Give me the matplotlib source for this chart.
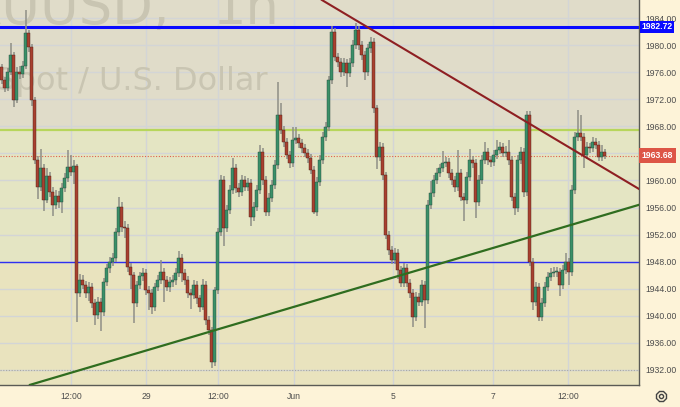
import matplotlib
matplotlib.use('Agg')
import matplotlib.pyplot as plt
import matplotlib.transforms as mtransforms
from matplotlib.lines import Line2D

# ---------------- data ----------------
first_open = 1976.8
closes = [1974.8, 1973.7, 1976.0, 1978.5, 1971.9, 1976.0, 1975.7, 1976.9, 1981.8, 1979.7,
          1971.9, 1963.0, 1959.0, 1961.8, 1957.1, 1960.7, 1958.3, 1956.4, 1957.7, 1956.8,
          1958.9, 1960.4, 1962.0, 1961.3, 1962.1, 1943.4, 1945.3, 1944.6, 1943.4, 1944.3,
          1941.9, 1940.1, 1942.1, 1940.6, 1945.0, 1947.1, 1948.0, 1948.6, 1952.4, 1956.1,
          1953.1, 1953.0, 1947.2, 1946.0, 1941.9, 1944.6, 1945.9, 1946.3, 1943.8, 1943.4,
          1941.3, 1944.3, 1945.3, 1946.5, 1945.3, 1944.3, 1945.0, 1945.3, 1946.3, 1948.6,
          1946.3, 1945.3, 1943.4, 1943.1, 1944.6, 1942.6, 1941.3, 1944.6, 1939.4, 1937.9,
          1933.2, 1943.8, 1952.4, 1960.1, 1953.0, 1955.6, 1958.6, 1961.8, 1958.9, 1958.3,
          1960.1, 1959.0, 1959.6, 1954.6, 1956.1, 1958.6, 1964.2, 1960.1, 1955.4, 1957.4,
          1959.3, 1962.3, 1969.7, 1967.5, 1965.7, 1963.8, 1962.6, 1966.0, 1966.3, 1965.5,
          1964.8, 1964.1, 1963.3, 1961.6, 1955.4, 1959.8, 1963.0, 1966.4, 1967.9, 1974.8,
          1981.9, 1978.2, 1977.5, 1976.0, 1977.4, 1975.9, 1977.4, 1980.0, 1982.2, 1980.0,
          1978.5, 1976.0, 1979.5, 1980.5, 1970.7, 1963.5, 1965.0, 1960.8, 1952.0, 1949.7,
          1948.3, 1949.3, 1946.8, 1944.9, 1947.1, 1944.9, 1943.4, 1939.8, 1942.8, 1942.1,
          1944.6, 1942.3, 1956.4, 1958.2, 1960.1, 1961.1, 1961.8, 1962.6, 1962.7, 1961.1,
          1960.1, 1959.0, 1961.1, 1957.6, 1957.1, 1960.5, 1963.0, 1962.6, 1956.8, 1960.1,
          1963.0, 1964.2, 1963.0, 1962.7, 1963.8, 1964.5, 1965.0, 1964.1, 1964.2, 1963.0,
          1957.6, 1955.9, 1963.0, 1964.2, 1958.3, 1969.7, 1948.0, 1942.1, 1944.3, 1939.8,
          1941.9, 1944.3, 1945.8, 1946.3, 1946.5, 1946.5, 1944.6, 1946.8, 1948.0, 1946.5,
          1958.6, 1966.4, 1967.0, 1966.4, 1963.8, 1965.0, 1964.8, 1965.7, 1965.3, 1963.5,
          1964.2, 1963.68]
highs = [1977.2, 1975.3, 1976.6, 1980.3, 1979.0, 1976.8, 1976.9, 1977.6, 1985.2, 1982.3,
         1980.2, 1972.4, 1963.6, 1964.6, 1962.4, 1961.9, 1961.2, 1959.0, 1958.6, 1958.4,
         1959.6, 1961.1, 1964.5, 1963.8, 1963.0, 1962.5, 1946.2, 1946.0, 1945.2, 1945.0,
         1944.8, 1942.5, 1942.8, 1942.6, 1945.6, 1947.7, 1948.7, 1949.3, 1953.0, 1957.6,
         1956.8, 1954.0, 1953.5, 1947.8, 1946.5, 1945.2, 1946.5, 1947.0, 1946.9, 1944.4,
         1944.0, 1944.9, 1946.0, 1948.3, 1947.1, 1945.9, 1945.7, 1946.0, 1947.1, 1949.6,
         1949.2, 1946.9, 1945.9, 1944.0, 1945.3, 1945.2, 1943.1, 1945.5, 1945.1, 1940.0,
         1938.4, 1944.3, 1953.0, 1960.8, 1960.6, 1956.3, 1959.3, 1963.3, 1962.4, 1959.6,
         1960.8, 1960.7, 1960.3, 1960.2, 1956.8, 1959.3, 1965.2, 1964.8, 1960.7, 1958.1,
         1960.0, 1963.0, 1974.6, 1971.5, 1968.1, 1966.3, 1964.4, 1967.9, 1967.9, 1966.9,
         1966.1, 1965.4, 1964.7, 1963.9, 1962.2, 1960.5, 1963.7, 1967.1, 1968.6, 1975.5,
         1982.8, 1982.5, 1978.9, 1978.1, 1978.1, 1978.0, 1978.1, 1980.7, 1983.3, 1982.8,
         1980.6, 1979.1, 1980.2, 1981.2, 1981.0, 1971.2, 1965.7, 1965.6, 1961.3, 1952.6,
         1950.3, 1950.0, 1949.9, 1947.4, 1947.8, 1947.7, 1945.5, 1944.0, 1943.5, 1943.4,
         1945.3, 1945.2, 1957.1, 1959.9, 1960.8, 1961.8, 1962.5, 1964.4, 1963.4, 1963.3,
         1961.7, 1960.7, 1964.5, 1961.7, 1958.2, 1961.2, 1964.6, 1963.6, 1963.2, 1960.8,
         1963.7, 1965.7, 1964.8, 1963.6, 1964.5, 1966.0, 1965.7, 1965.6, 1965.1, 1966.0,
         1963.6, 1958.2, 1963.7, 1965.0, 1964.8, 1970.2, 1970.2, 1948.6, 1945.0, 1944.9,
         1942.6, 1945.0, 1946.5, 1947.0, 1947.2, 1947.2, 1947.1, 1947.5, 1949.3, 1948.6,
         1959.3, 1967.1, 1970.4, 1969.6, 1967.0, 1965.7, 1965.5, 1966.4, 1966.3, 1965.9,
         1965.2, 1964.6]
lows = [1974.3, 1973.0, 1973.2, 1975.6, 1970.9, 1971.4, 1975.0, 1975.2, 1976.4, 1979.0,
        1971.0, 1962.4, 1957.3, 1958.4, 1955.5, 1956.6, 1957.5, 1954.8, 1955.8, 1956.0,
        1955.2, 1958.3, 1959.8, 1960.7, 1959.5, 1939.1, 1942.8, 1943.9, 1942.6, 1942.2,
        1941.2, 1938.6, 1939.6, 1937.7, 1940.0, 1944.4, 1946.3, 1947.4, 1948.0, 1951.8,
        1952.4, 1951.5, 1946.5, 1944.0, 1939.0, 1941.3, 1944.0, 1945.2, 1943.1, 1940.9,
        1940.2, 1940.7, 1943.6, 1944.7, 1942.0, 1943.7, 1943.5, 1944.3, 1944.6, 1945.7,
        1945.0, 1944.6, 1942.7, 1941.0, 1942.5, 1941.8, 1940.6, 1940.8, 1938.7, 1937.2,
        1932.3, 1932.6, 1943.2, 1951.8, 1950.3, 1952.4, 1955.0, 1958.0, 1958.2, 1957.6,
        1957.7, 1958.4, 1958.4, 1953.3, 1954.0, 1955.5, 1958.0, 1959.4, 1954.8, 1954.8,
        1956.8, 1958.7, 1961.7, 1966.9, 1965.0, 1963.1, 1961.9, 1962.0, 1965.4, 1964.8,
        1964.1, 1963.4, 1962.6, 1960.9, 1955.0, 1954.8, 1959.2, 1962.4, 1965.8, 1967.3,
        1974.2, 1977.6, 1976.8, 1975.3, 1975.4, 1973.8, 1975.3, 1976.8, 1979.4, 1979.3,
        1977.8, 1974.8, 1975.4, 1978.9, 1970.0, 1961.7, 1962.9, 1960.1, 1951.3, 1949.0,
        1947.6, 1947.7, 1945.4, 1944.2, 1944.3, 1944.2, 1942.7, 1938.4, 1939.2, 1941.4,
        1941.5, 1938.2, 1941.7, 1955.8, 1957.6, 1959.5, 1960.5, 1961.2, 1962.0, 1960.4,
        1959.4, 1958.3, 1958.4, 1956.9, 1954.0, 1956.5, 1959.9, 1961.9, 1954.4, 1956.2,
        1959.5, 1962.4, 1962.3, 1962.0, 1962.1, 1963.2, 1963.9, 1963.4, 1963.5, 1962.3,
        1956.9, 1954.9, 1955.3, 1962.4, 1957.6, 1957.7, 1947.4, 1940.8, 1941.5, 1939.3,
        1939.2, 1941.3, 1943.7, 1945.2, 1945.7, 1945.8, 1943.0, 1944.0, 1946.2, 1944.5,
        1945.9, 1958.0, 1965.8, 1965.8, 1961.9, 1963.2, 1964.1, 1964.2, 1964.6, 1962.9,
        1962.9, 1963.2]

time_tick_pos = [23.17, 48.17, 72.17, 97.5, 130.5, 163.83, 188.83]
time_tick_labels = ['12:00', '29', '12:00', 'Jun', '5', '7', '12:00']
price_ticks = [1932, 1936, 1940, 1944, 1948, 1952, 1956, 1960, 1964, 1968, 1972, 1976, 1980, 1984]
hidden_price_labels = [1964]

resistance_level = 1982.72
support_level = 1948.0
zone_level = 1967.45
last_price = 1963.68
low_level = 1932.0
down_trend_x = [106.8, 212.5]
down_trend_y = [1986.66, 1958.74]
up_trend_x = [9.5, 212.5]
up_trend_y = [1929.8, 1956.4]

x_range = (-0.5, 212.5)
y_range = (1929.78, 1986.66)

# ---------------- figure ----------------
W, H = 680, 407
fig = plt.figure(figsize=(W / 100, H / 100), dpi=100)
fig.patch.set_facecolor('#fdf3d8')
ax = fig.add_axes([0, 22 / H, 639 / W, 385 / H])
ax.set_xlim(*x_range)
ax.set_ylim(*y_range)
ax.set_facecolor('#e6e5c3')

# background zones
ax.axhspan(zone_level, y_range[1], color='#e0dcc9', zorder=0, lw=0)
ax.axhspan(support_level, zone_level, color='#e4e5c3', zorder=0, lw=0)
ax.axhspan(y_range[0], support_level, color='#e9e3be', zorder=0, lw=0)

# grid
for p in price_ticks:
    ax.axhline(p, color='#d3d5d6', lw=1.0, zorder=0.5)
for t in time_tick_pos:
    ax.axvline(t, color='#d3d5d6', lw=1.0, zorder=0.5)

# watermark (partly outside the visible pane, as in the reference)
ax.text(170 / 639, 1 - 24 / 385, 'XAUUSD,', transform=ax.transAxes, ha='right',
        va='baseline', fontsize=38, color='#c9c5b2', clip_on=True, zorder=0.6,
        family='DejaVu Sans')
ax.text(212 / 639, 1 - 24 / 385, '1h', transform=ax.transAxes, ha='left',
        va='baseline', fontsize=38, color='#c9c5b2', clip_on=True, zorder=0.6,
        family='DejaVu Sans')
ax.text(268 / 639, 1 - 90 / 385, 'Gold Spot / U.S. Dollar', transform=ax.transAxes,
        ha='right', va='baseline', fontsize=23, color='#c9c5b2', clip_on=True,
        zorder=0.6, family='DejaVu Sans')

# horizontal levels
ax.axhline(resistance_level, color='#0a0aff', lw=2.2, zorder=2)
ax.axhline(support_level, color='#3030f0', lw=1.0, zorder=2)
ax.axhline(zone_level, color='#b7d65c', lw=1.6, zorder=2)
ax.axhline(last_price, color='#e0604a', lw=0.8, ls=(0, (1, 1.5)), zorder=2)
ax.axhline(low_level, color='#a8a8a0', lw=0.8, ls=(0, (1, 1.5)), zorder=2)

# candles
opens = [first_open] + closes[:-1]
idx = list(range(len(closes)))
ax.vlines(idx, lows, highs, color='#8f8f86', lw=1.1, zorder=3)
for i, (o, c) in enumerate(zip(opens, closes)):
    up = c >= o
    bottom = min(o, c)
    height = max(abs(c - o), 0.15)
    ax.bar(i, height, bottom=bottom, width=0.72,
           color='#3a9068' if up else '#a8402f',
           edgecolor='#24463a' if up else '#4a2019', linewidth=0.3, zorder=4)

# trend lines
ax.plot(down_trend_x, down_trend_y, color='#8e1f22', lw=1.5, zorder=5, clip_on=True)
ax.plot(up_trend_x, up_trend_y, color='#2f6d1f', lw=1.6, zorder=5, clip_on=True)

# axes styling
for s in ['top', 'left']:
    ax.spines[s].set_visible(False)
ax.spines['right'].set_color('#5a5a55')
ax.spines['bottom'].set_color('#5a5a55')
ax.spines['right'].set_linewidth(1.0)
ax.spines['bottom'].set_linewidth(1.0)

ax.yaxis.tick_right()
ax.set_yticks(price_ticks)
ax.set_yticklabels(['' if p in hidden_price_labels else '%.2f' % p for p in price_ticks])
ax.set_xticks(time_tick_pos)
ax.set_xticklabels(time_tick_labels)
ax.tick_params(axis='y', length=0, pad=4.5, labelsize=6.2, labelcolor='#4d4d4d')
ax.tick_params(axis='x', length=0, pad=5, labelsize=6.2, labelcolor='#4d4d4d')
for lab in ax.get_yticklabels() + ax.get_xticklabels():
    lab.set_family('Liberation Sans')

# price labels on axis
trans = mtransforms.blended_transform_factory(ax.transAxes, ax.transData)
ax.text(1.004, resistance_level, '1982.72', transform=trans, ha='left', va='center',
        fontsize=6.2, color='white', fontweight='bold', family='Liberation Sans',
        bbox=dict(boxstyle='square,pad=0.18', fc='#0a0aff', ec='none'), clip_on=False,
        zorder=10)
ax.text(1.004, last_price, '1963.68', transform=trans, ha='left', va='center',
        fontsize=6.2, color='white', fontweight='bold', family='Liberation Sans',
        bbox=dict(boxstyle='square,pad=0.3', fc='#dd5546', ec='none'), clip_on=False,
        zorder=10)

# settings icon
fig.add_artist(Line2D([661 / W], [11 / H], transform=fig.transFigure, marker='8',
                      ms=8, mfc='none', mec='#444444', mew=1.0, ls='none'))
fig.add_artist(Line2D([661 / W], [11 / H], transform=fig.transFigure, marker='o',
                      ms=3, mfc='none', mec='#444444', mew=1.0, ls='none'))

fig.savefig('out.png', dpi=100, facecolor=fig.get_facecolor())
